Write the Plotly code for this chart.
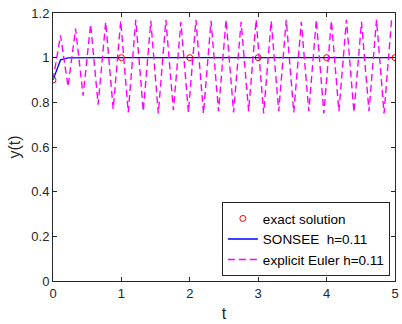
import numpy as np
import plotly.graph_objects as go

# exact solution
t_exact = [0, 1, 2, 3, 4, 5]
y_exact = [0.9, 1, 1, 1, 1, 1]

h = 0.11
n_steps = 46  # t = 0 ... 4.95
t_num = [round(k * h, 2) for k in range(n_steps)]

# SONSEE h=0.11
y_sonsee = [0.9, 0.99, 0.999] + [1.0] * (n_steps - 3)

# explicit Euler h=0.11
y_euler = [0.9, 1.10, 0.87, 1.13, 0.83, 1.15, 0.79, 1.16, 0.77, 1.165, 0.755,
           1.17, 0.76, 1.165, 0.75, 1.17, 0.765, 1.16, 0.755, 1.17, 0.75,
           1.165, 0.76, 1.17, 0.755, 1.16, 0.76, 1.17, 0.75, 1.165, 0.76,
           1.17, 0.755, 1.16, 0.76, 1.17, 0.75, 1.165, 0.76, 1.17, 0.755,
           1.16, 0.76, 1.17, 0.75, 1.17]

x_ticks = [0, 1, 2, 3, 4, 5]
x_ticklabels = ["0", "1", "2", "3", "4", "5"]
y_ticks = [0, 0.2, 0.4, 0.6, 0.8, 1, 1.2]
y_ticklabels = ["0", "0.2", "0.4", "0.6", "0.8", "1", "1.2"]

fig = go.Figure()
fig.add_trace(go.Scatter(x=t_exact, y=y_exact, mode="markers", name="exact solution",
                         marker=dict(symbol="circle-open", color="#FF0000", size=6,
                                     line=dict(width=1, color="#FF0000"))))
fig.add_trace(go.Scatter(x=t_num, y=y_sonsee, mode="lines", name="SONSEE  h=0.11",
                         line=dict(color="#0000FF", width=1.3)))
fig.add_trace(go.Scatter(x=t_num, y=y_euler, mode="lines", name="explicit Euler h=0.11",
                         line=dict(color="#FF00FF", width=1.4, dash="7px,4px")))

axis_common = dict(showgrid=False, zeroline=False, showline=True, linecolor="#262626",
                   linewidth=1, mirror="ticks", ticks="inside", ticklen=4,
                   tickcolor="#262626", tickfont=dict(size=13, color="#262626"),
                   ticklabeloverflow="allow")

fig.update_layout(
    width=402, height=324,
    margin=dict(l=53, r=3, t=13, b=43),
    paper_bgcolor="white", plot_bgcolor="white",
    font=dict(family="Liberation Sans, Arial, sans-serif", size=13, color="#262626"),
    xaxis=dict(range=[0, 5.0001], tickvals=x_ticks, ticktext=x_ticklabels,
               title=dict(text="t", standoff=8), **axis_common),
    yaxis=dict(range=[0, 1.2], tickvals=y_ticks, ticktext=y_ticklabels,
               title=dict(text="y(t)", standoff=6), **axis_common),
    legend=dict(x=0.985, y=0.018, xanchor="right", yanchor="bottom",
                bgcolor="white", bordercolor="#262626", borderwidth=1,
                font=dict(size=13.5, color="#000000"), tracegroupgap=0,
                itemwidth=30),
    showlegend=True,
)

fig.write_html("out.html")
